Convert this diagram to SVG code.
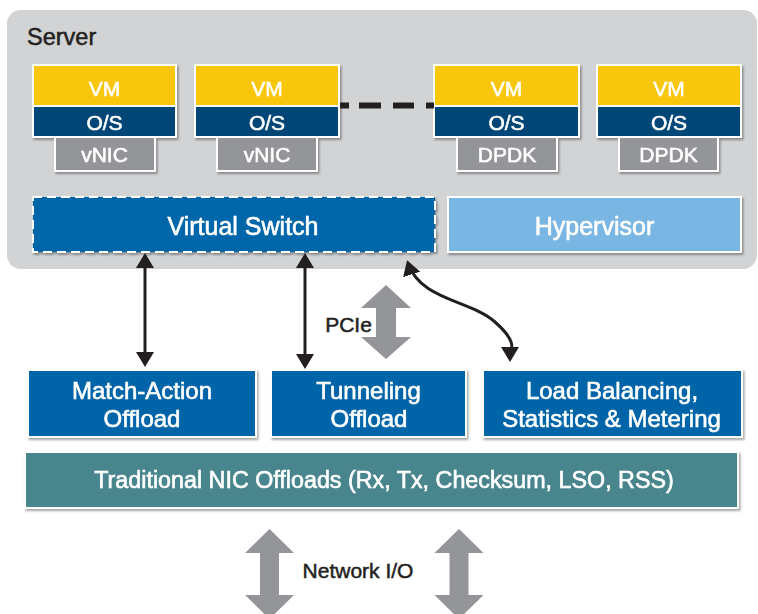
<svg xmlns="http://www.w3.org/2000/svg" width="758" height="614" viewBox="0 0 758 614">
  <defs>
    <filter id="sh" x="-5%" y="-5%" width="115%" height="130%">
      <feDropShadow dx="1.5" dy="2" stdDeviation="1.2" flood-color="#000" flood-opacity="0.35"/>
    </filter>
    <marker id="ah" viewBox="0 0 15 18" refX="12" refY="9" markerWidth="15" markerHeight="18" markerUnits="userSpaceOnUse" orient="auto-start-reverse">
      <path d="M0,0 L15,9 L0,18 Z" fill="#231f20"/>
    </marker>
  </defs>
  <style>
    text { font-family: "Liberation Sans", Arial, sans-serif; text-anchor: middle; }
    .w { fill: #ffffff; stroke: #ffffff; stroke-width: 0.6px; }
    .k { fill: #231f20; stroke: #231f20; stroke-width: 0.5px; }
    .vm { fill: #f8c60c; }
    .os { fill: #004677; }
    .nic { fill: #939598; stroke: #ffffff; stroke-width: 2; }
    .frame { fill: none; stroke: #ffffff; stroke-width: 2; }
    .blue { fill: #0065a8; stroke: #ffffff; stroke-width: 2; }
    .conn { fill: none; stroke: #231f20; stroke-width: 3; marker-start: url(#ah); marker-end: url(#ah); }
    .gray { fill: #939598; }
    .t21 { font-size: 21px; }
    .t24 { font-size: 24px; }
  </style>

  <g id="server">
    <rect x="7" y="10" width="750" height="259" rx="14" fill="#d1d3d4"/>
    <text x="27" y="45" class="k" style="font-size:23.5px;text-anchor:start">Server</text>
  </g>

  <g id="vm1" filter="url(#sh)">
    <rect x="55" y="137" width="100" height="34" class="nic"/>
    <rect x="33" y="65" width="143" height="41" class="vm"/>
    <rect x="33" y="106" width="143" height="31" class="os"/>
    <line x1="33" y1="106" x2="176" y2="106" stroke="#fff" stroke-width="2"/>
    <rect x="33" y="65" width="143" height="72" class="frame"/>
    <text x="104.5" y="96" class="w t21">VM</text>
    <text x="104.5" y="130" class="w t21">O/S</text>
    <text x="104.5" y="162" class="w t21">vNIC</text>
  </g>

  <g id="vm2" filter="url(#sh)">
    <rect x="217" y="137" width="100" height="34" class="nic"/>
    <rect x="195" y="65" width="144" height="41" class="vm"/>
    <rect x="195" y="106" width="144" height="31" class="os"/>
    <line x1="195" y1="106" x2="339" y2="106" stroke="#fff" stroke-width="2"/>
    <rect x="195" y="65" width="144" height="72" class="frame"/>
    <text x="267" y="96" class="w t21">VM</text>
    <text x="267" y="130" class="w t21">O/S</text>
    <text x="267" y="162" class="w t21">vNIC</text>
  </g>

  <g id="vm3" filter="url(#sh)">
    <rect x="457" y="137" width="100" height="34" class="nic"/>
    <rect x="434" y="65" width="145" height="41" class="vm"/>
    <rect x="434" y="106" width="145" height="31" class="os"/>
    <line x1="434" y1="106" x2="579" y2="106" stroke="#fff" stroke-width="2"/>
    <rect x="434" y="65" width="145" height="72" class="frame"/>
    <text x="506.5" y="96" class="w t21">VM</text>
    <text x="506.5" y="130" class="w t21">O/S</text>
    <text x="507" y="162" class="w t21">DPDK</text>
  </g>

  <g id="vm4" filter="url(#sh)">
    <rect x="619" y="137" width="99" height="34" class="nic"/>
    <rect x="597" y="65" width="144" height="41" class="vm"/>
    <rect x="597" y="106" width="144" height="31" class="os"/>
    <line x1="597" y1="106" x2="741" y2="106" stroke="#fff" stroke-width="2"/>
    <rect x="597" y="65" width="144" height="72" class="frame"/>
    <text x="669" y="96" class="w t21">VM</text>
    <text x="669" y="130" class="w t21">O/S</text>
    <text x="668.5" y="162" class="w t21">DPDK</text>
  </g>

  <g id="virtual-switch" filter="url(#sh)">
    <rect x="33" y="197" width="402" height="55" fill="#0066aa" stroke="#ffffff" stroke-width="2" stroke-dasharray="9 5"/>
    <text x="243" y="235" class="w" style="font-size:25px">Virtual Switch</text>
  </g>

  <g id="hypervisor" filter="url(#sh)">
    <rect x="448" y="197" width="293" height="55" fill="#7ab6e3" stroke="#ffffff" stroke-width="2"/>
    <text x="594.5" y="235" class="w" style="font-size:25px">Hypervisor</text>
  </g>

  <g id="match-action" filter="url(#sh)">
    <rect x="28" y="370" width="228" height="67" class="blue"/>
    <text x="142" y="399" class="w t24">Match-Action</text>
    <text x="142" y="427" class="w t24">Offload</text>
  </g>

  <g id="tunneling" filter="url(#sh)">
    <rect x="271" y="370" width="195" height="67" class="blue"/>
    <text x="368.5" y="399" class="w t24">Tunneling</text>
    <text x="369" y="427" class="w t24">Offload</text>
  </g>

  <g id="load-balancing" filter="url(#sh)">
    <rect x="483" y="370" width="259" height="67" class="blue"/>
    <text x="612" y="399" class="w t24">Load Balancing,</text>
    <text x="611.5" y="427" class="w t24">Statistics &amp; Metering</text>
  </g>

  <g id="traditional-nic" filter="url(#sh)">
    <rect x="25" y="452" width="713" height="56" fill="#4a858d" stroke="#ffffff" stroke-width="2"/>
    <text x="384" y="488" class="w" style="font-size:23.3px">Traditional NIC Offloads (Rx, Tx, Checksum, LSO, RSS)</text>
  </g>

  <g id="connectors">
    <path d="M340,105.5 H434" stroke="#231f20" stroke-width="6" stroke-dasharray="9 10 22 12 21 12 8 0"/>
    <line x1="145" y1="256" x2="145" y2="364" class="conn"/>
    <line x1="305" y1="256" x2="305" y2="366" class="conn"/>
    <path d="M408,263 C420,300 470,300 495,322 S510,350 510,359" class="conn"/>
    <polygon class="gray" points="386,285 411,308 396,308 396,337 411,337 386,359 361,337 376,337 376,308 361,308"/>
    <text x="348.5" y="332" class="k t21">PCIe</text>
    <polygon class="gray" points="269.5,529 294,553 279,553 279,595 294,595 269.5,619 245,595 260,595 260,553 245,553"/>
    <polygon class="gray" points="459,529 483.5,553 468.5,553 468.5,595 483.5,595 459,619 434.5,595 449.5,595 449.5,553 434.5,553"/>
    <text x="358" y="578" class="k t21">Network I/O</text>
  </g>
</svg>
